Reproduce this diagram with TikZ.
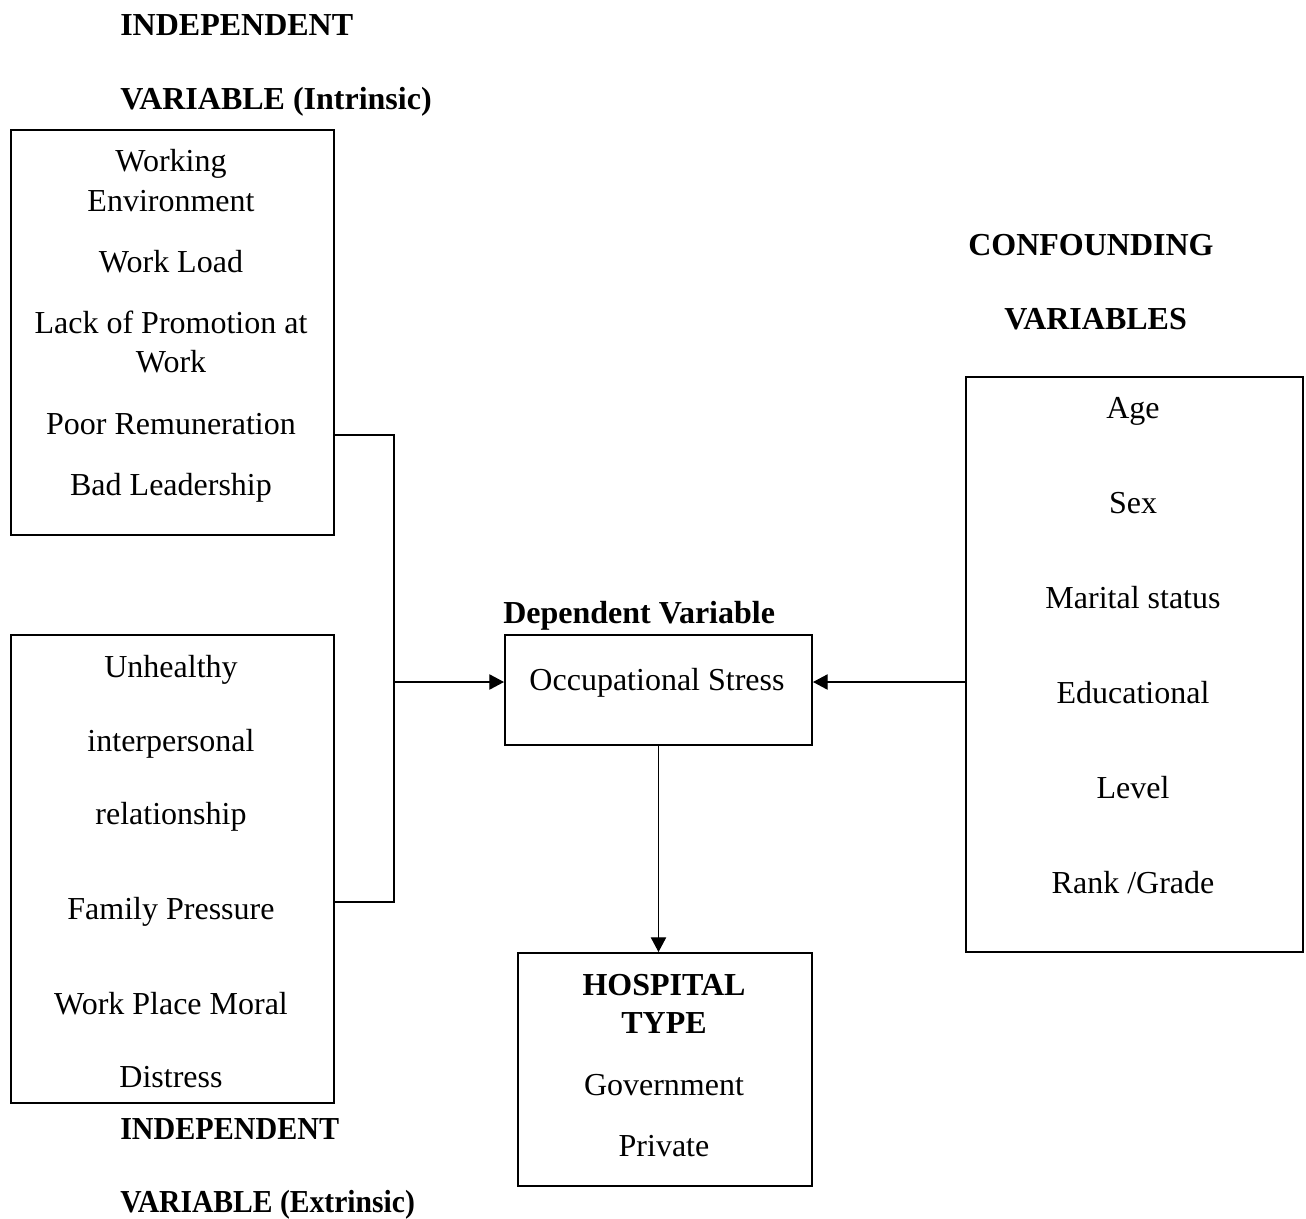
\documentclass[tikz,border=0pt]{standalone}
\usepackage{fontspec}
\usepackage{graphicx}
\setmainfont{Liberation Serif}
\usetikzlibrary{arrows.meta}
\begin{document}
\begin{tikzpicture}[x=0.75pt,y=-0.75pt,
  box/.style={draw,line width=1.5pt,inner sep=0pt,anchor=north west},
  conn/.style={line width=0.9pt},
  arr/.style={conn,-{Triangle[length=11pt,width=11.5pt]}},
  txt/.style={anchor=base,inner sep=0pt,font=\fontsize{24}{28}\selectfont},
  hdr/.style={anchor=base west,inner sep=0pt,font=\fontsize{24}{28}\selectfont\bfseries},
  bhd/.style={anchor=base,inner sep=0pt,font=\fontsize{24}{28}\selectfont\bfseries}]
\useasboundingbox (0,0) rectangle (1306,1218);
% boxes
\node[box,minimum width=242.25pt,minimum height=303.75pt] (b1) at (10,129) {};
\node[box,minimum width=242.25pt,minimum height=351pt] (b2) at (10,634) {};
\node[box,minimum width=230.25pt,minimum height=82.5pt] (occ) at (504,634) {};
\node[box,minimum width=220.5pt,minimum height=174.75pt] (hosp) at (517,952) {};
\node[box,minimum width=252.75pt,minimum height=431.25pt] (conf) at (965,376) {};
% headers
\node[hdr] (h1) at (120,35) {INDEPENDENT};
\node[hdr] (h2) at (120,109) {VARIABLE (Intrinsic)};
\node[hdr] (h3) at (968,255) {CONFOUNDING};
\node[hdr] (h4) at (1004,329) {VARIABLES};
\node[hdr] (h5) at (503,623) {Dependent Variable};
\node[hdr] (h6) at (120,1139) {\scalebox{0.94}[1]{INDEPENDENT}};
\node[hdr] (h7) at (120,1212) {\scalebox{0.925}[1]{VARIABLE (Extrinsic)}};
% box 1 text
\node[txt] (t11) at (171,171) {Working};
\node[txt] (t12) at (171,211) {Environment};
\node[txt] (t13) at (171,272) {Work Load};
\node[txt] (t14) at (171,333) {Lack of Promotion at};
\node[txt] (t15) at (171,372) {Work};
\node[txt] (t16) at (171,434) {Poor Remuneration};
\node[txt] (t17) at (171,495) {Bad Leadership};
% box 2 text
\node[txt] (t21) at (171,677) {Unhealthy};
\node[txt] (t22) at (171,751) {interpersonal};
\node[txt] (t23) at (171,824) {relationship};
\node[txt] (t24) at (171,919) {Family Pressure};
\node[txt] (t25) at (171,1014) {Work Place Moral};
\node[txt] (t26) at (171,1087) {Distress};
% occupational stress
\node[txt] (t31) at (657,690) {Occupational Stress};
% hospital
\node[bhd] (t41) at (664,995) {HOSPITAL};
\node[bhd] (t42) at (664,1033) {TYPE};
\node[txt] (t43) at (664,1095) {Government};
\node[txt] (t44) at (664,1156) {Private};
% confounding
\node[txt] (t51) at (1133,418) {Age};
\node[txt] (t52) at (1133,513) {Sex};
\node[txt] (t53) at (1133,608) {Marital status};
\node[txt] (t54) at (1133,703) {Educational};
\node[txt] (t55) at (1133,798) {Level};
\node[txt] (t56) at (1133,893) {Rank /Grade};
% connectors
\coordinate (j1) at (394,435);
\coordinate (j2) at (394,902);
\coordinate (j3) at (394,682);
\coordinate (c1) at (965,682);
\draw[conn] (b1.east |- j1) -- (j1) -- (j2) -- (b2.east |- j2);
\draw[arr] (j3) -- (occ.west |- j3);
\draw[arr] (conf.west |- c1) -- (occ.east |- c1);
\draw[arr] (occ.south) -- (occ.south |- hosp.north);
\end{tikzpicture}
\end{document}
